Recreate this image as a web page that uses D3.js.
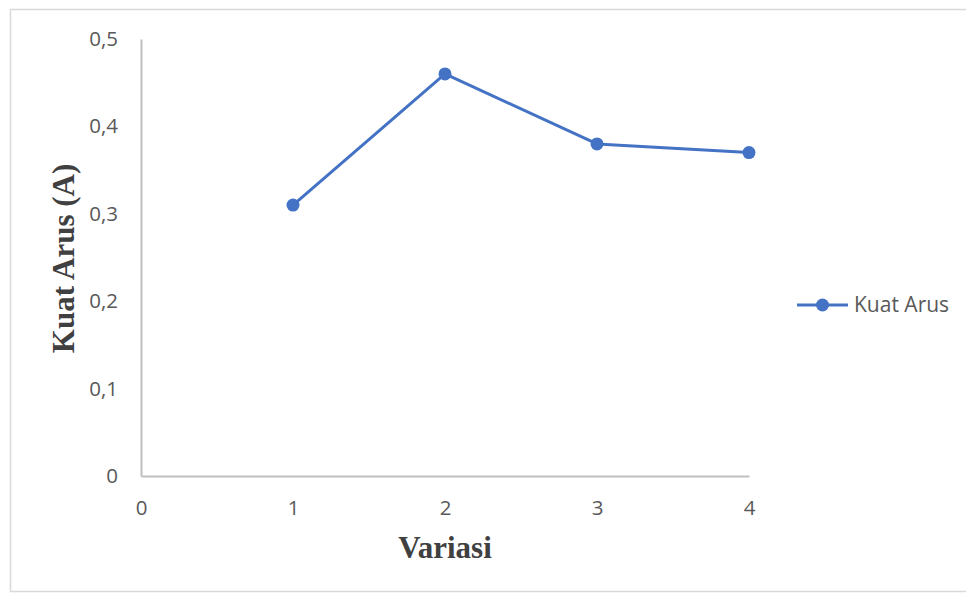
<!DOCTYPE html>
<html>
<head>
<meta charset="utf-8">
<script src="https://cdn.jsdelivr.net/npm/d3@7/dist/d3.min.js"></script>
<style>
  html, body { margin: 0; padding: 0; background: #ffffff; }
  svg { display: block; }
</style>
</head>
<body>
<script>
// Measured current for each variation
const variasi = [1, 2, 3, 4];
const kuatArus = [0.31, 0.46, 0.38, 0.37];
const xTicks = [0, 1, 2, 3, 4];
const yTicks = [0, 0.1, 0.2, 0.3, 0.4, 0.5];
const seriesName = "Kuat Arus";

const W = 966, H = 596;
const svg = d3.select("body").append("svg").attr("width", W).attr("height", H);

// chart frame
svg.append("rect")
  .attr("x", 10.5).attr("y", 9.5)
  .attr("width", 970).attr("height", 582)
  .attr("fill", "#ffffff")
  .attr("stroke", "#d9d9d9").attr("stroke-width", 1.5);

const x = d3.scaleLinear().domain([0, 4]).range([141, 749]);
const y = d3.scaleLinear().domain([0, 0.5]).range([476, 39]);

const tickFont = "'Open Sans', 'Noto Sans', sans-serif";
const tickSize = "20.5px";
const fmt = d => d3.format(".1~f")(d).replace(".", ",");

// y axis
const yAxis = svg.append("g").attr("transform", `translate(${x(0)},0)`)
  .call(d3.axisLeft(y).tickValues(yTicks).tickSize(0).tickPadding(23).tickFormat(fmt));
yAxis.select(".domain").attr("stroke", "#bfbfbf").attr("stroke-width", 2);
yAxis.selectAll("text").attr("fill", "#595959").style("font-family", tickFont).style("font-size", tickSize);

// x axis
const xAxis = svg.append("g").attr("transform", `translate(0,${y(0)})`)
  .call(d3.axisBottom(x).tickValues(xTicks).tickSize(0).tickPadding(24).tickFormat(d3.format("d")));
xAxis.select(".domain").attr("stroke", "#bfbfbf").attr("stroke-width", 2);
xAxis.selectAll("text").attr("fill", "#595959").style("font-family", tickFont).style("font-size", tickSize);

// axis titles
const titleFont = "'Liberation Serif', 'Times New Roman', serif";
svg.append("text")
  .attr("x", x(2)).attr("y", 558)
  .attr("text-anchor", "middle")
  .style("font-family", titleFont)
  .style("font-weight", "bold").style("font-size", "31px")
  .attr("fill", "#404040")
  .text("Variasi");

svg.append("text")
  .attr("transform", `translate(74,${y(0.25) + 1}) rotate(-90)`)
  .attr("text-anchor", "middle")
  .style("font-family", titleFont)
  .style("font-weight", "bold").style("font-size", "31px")
  .attr("fill", "#404040")
  .text("Kuat Arus (A)");

// data line
const data = variasi.map((v, i) => ({ x: v, y: kuatArus[i] }));
const color = "#4472c4";
svg.append("path")
  .datum(data)
  .attr("fill", "none")
  .attr("stroke", color).attr("stroke-width", 3)
  .attr("stroke-linejoin", "round")
  .attr("d", d3.line().x(d => x(d.x)).y(d => y(d.y)));

svg.selectAll("circle.pt").data(data).enter().append("circle")
  .attr("class", "pt")
  .attr("cx", d => x(d.x)).attr("cy", d => y(d.y))
  .attr("r", 6.5).attr("fill", color);

// legend
const lg = svg.append("g").attr("transform", "translate(797,305)");
lg.append("line").attr("x1", 0).attr("x2", 51).attr("y1", 0).attr("y2", 0)
  .attr("stroke", color).attr("stroke-width", 3);
lg.append("circle").attr("cx", 25.5).attr("cy", 0).attr("r", 6.5).attr("fill", color);
lg.append("text").attr("x", 57).attr("y", 7)
  .style("font-family", tickFont).style("font-size", "21px")
  .attr("fill", "#595959")
  .text(seriesName);
</script>
</body>
</html>
